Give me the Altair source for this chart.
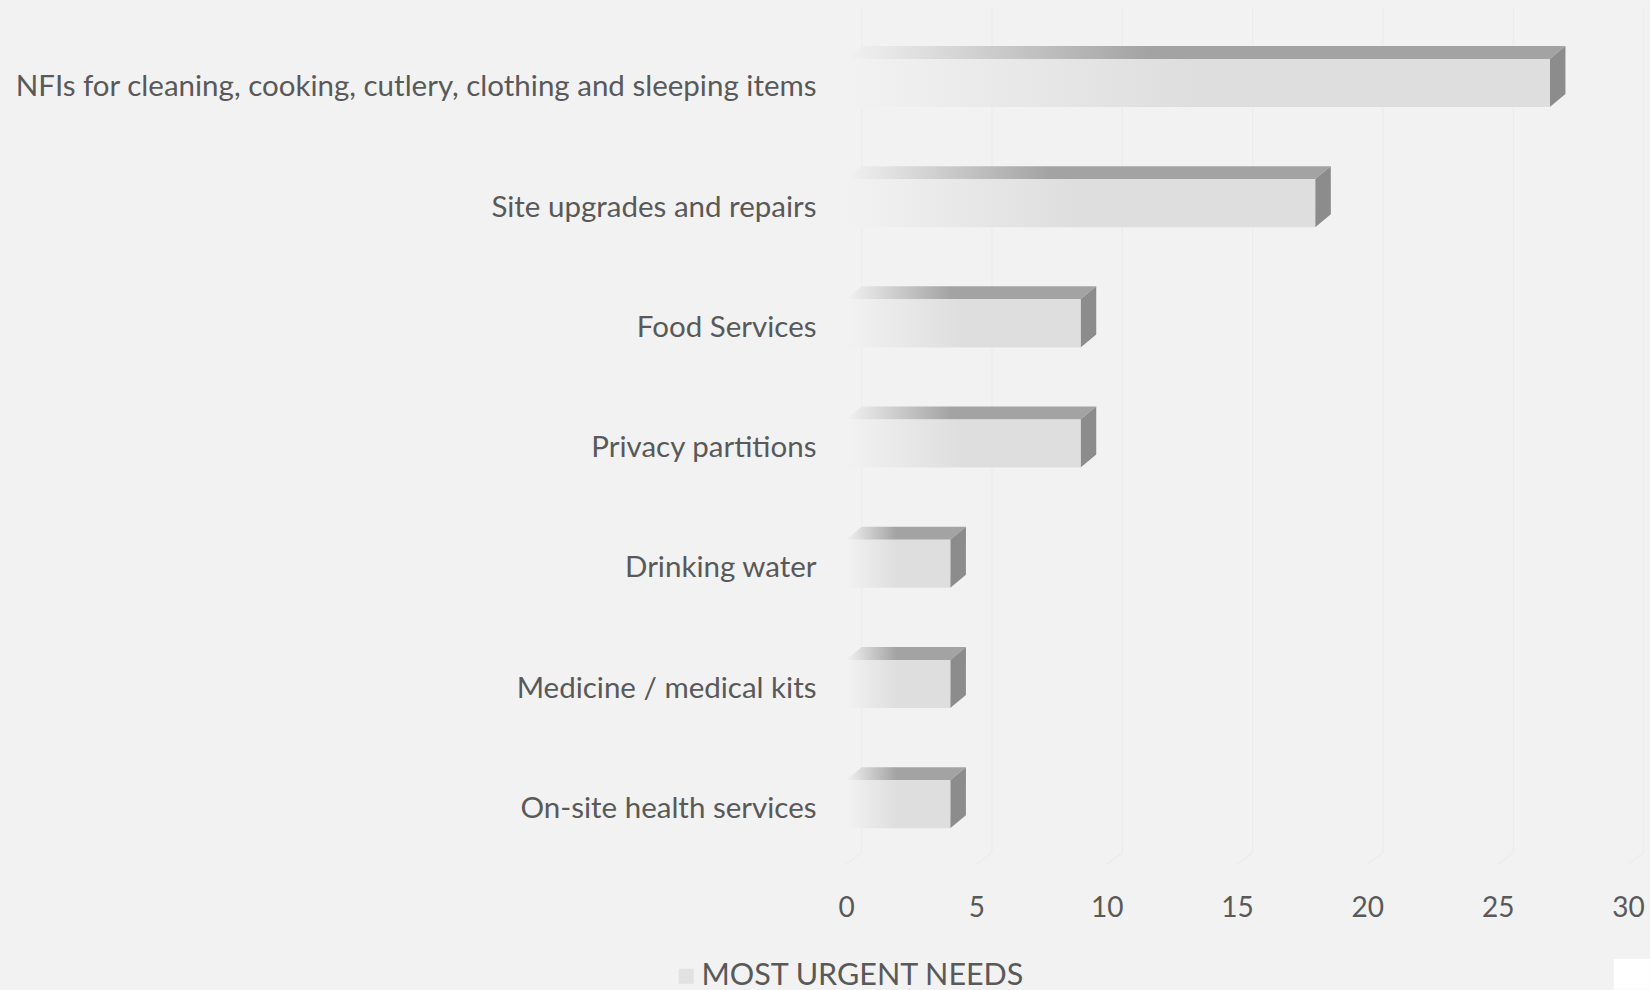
import json

import altair as alt
import pandas as pd

categories = [
    "NFIs for cleaning, cooking, cutlery, clothing and sleeping items",
    "Site upgrades and repairs",
    "Food Services",
    "Privacy partitions",
    "Drinking water",
    "Medicine / medical kits",
    "On-site health services",
]
values = [27, 18, 9, 9, 4, 4, 4]
x_ticks = [0, 5, 10, 15, 20, 25, 30]
series_name = "MOST URGENT NEEDS"

# Box geometry, in axis units: x is the count, y is the row number.
BAR_ABOVE = 0.192
BAR_BELOW = 0.208
DEPTH_X = 0.6
DEPTH_Y = 0.108
ROW_TOP = -0.6156
ROW_FLOOR_FRONT = 6.51
ROW_FLOOR_BACK = 6.41
ROW_DOMAIN = [ROW_TOP, 6.539]

TEXT = "#595959"
FONT = "Lato"

x_scale = alt.Scale(domain=[0, 30], nice=False, zero=False)
y_scale = alt.Scale(domain=ROW_DOMAIN, reverse=True, nice=False, zero=False)


def fade(colour, stop):
    """Left-to-right fade from the background into a solid face colour."""
    return alt.LinearGradient(
        gradient="linear",
        x1=0, x2=1, y1=0, y2=0,
        stops=[
            alt.GradientStop(offset=0, color="#f2f2f2"),
            alt.GradientStop(offset=stop, color=colour),
            alt.GradientStop(offset=1, color=colour),
        ],
    )


rows = pd.DataFrame({"bar": range(len(values)), "value": values})
rows["start"] = 0
rows["front_top"] = rows["bar"] - BAR_ABOVE
rows["front_bottom"] = rows["bar"] + BAR_BELOW

top_faces = pd.DataFrame(
    [
        {"bar": r.bar, "step": s, "left": s * DEPTH_X, "right": r.value + s * DEPTH_X,
         "edge": r.front_top - s * DEPTH_Y}
        for r in rows.itertuples()
        for s in (0, 1)
    ]
)
side_faces = pd.DataFrame(
    [
        {"bar": r.bar, "step": s, "edge": r.value + s * DEPTH_X,
         "upper": r.front_top - s * DEPTH_Y, "lower": r.front_bottom - s * DEPTH_Y}
        for r in rows.itertuples()
        for s in (0, 1)
    ]
)
grid = pd.DataFrame(
    [
        {"tick": t, "step": s, "x": t + dx, "y": y}
        for t in x_ticks
        for s, dx, y in (
            (0, 0, ROW_FLOOR_FRONT),
            (1, DEPTH_X, ROW_FLOOR_BACK),
            (2, DEPTH_X, ROW_TOP),
        )
    ]
)

x_axis = alt.Axis(
    values=x_ticks, title=None, grid=False, ticks=False, domain=False,
    labelFont=FONT, labelFontSize=28, labelColor=TEXT, labelPadding=26,
    labelFlush=False, labelOverlap=False,
)
y_axis = alt.Axis(
    values=list(range(len(categories))), title=None, grid=False, ticks=False, domain=False,
    labelExpr=json.dumps(categories) + "[datum.value]",
    labelFont=FONT, labelFontSize=29.5, labelColor=TEXT, labelPadding=30,
    labelOffset=5, labelLimit=0, labelOverlap=False, labelFlush=False,
)

grid_layer = alt.Chart(grid).mark_line(color="#ececec", strokeWidth=1.2).encode(
    x=alt.X("x:Q", scale=x_scale, axis=x_axis),
    y=alt.Y("y:Q", scale=y_scale, axis=y_axis),
    detail="tick:N",
    order="step:Q",
)

top_layer = alt.Chart(top_faces).mark_area(orient="horizontal", color=fade("#a3a3a3", 0.42)).encode(
    x=alt.X("left:Q", scale=x_scale),
    x2="right:Q",
    y=alt.Y("edge:Q", scale=y_scale),
    detail="bar:N",
)

side_layer = alt.Chart(side_faces).mark_area(orient="vertical", color="#8c8c8c").encode(
    x=alt.X("edge:Q", scale=x_scale),
    y=alt.Y("upper:Q", scale=y_scale),
    y2="lower:Q",
    detail="bar:N",
)

front_layer = alt.Chart(rows).mark_rect(color=fade("#dedede", 0.49)).encode(
    x=alt.X("start:Q", scale=x_scale),
    x2="value:Q",
    y=alt.Y("front_top:Q", scale=y_scale),
    y2="front_bottom:Q",
)

# Zero-sized point that only exists to carry the series legend.
legend_layer = alt.Chart(pd.DataFrame({"series": [series_name], "x": [0], "y": [0]})).mark_square(
    size=0, opacity=1
).encode(
    x=alt.X("x:Q", scale=x_scale),
    y=alt.Y("y:Q", scale=y_scale),
    color=alt.Color(
        "series:N",
        scale=alt.Scale(domain=[series_name], range=["#e2e2e2"]),
        legend=alt.Legend(
            title=None, orient="none", legendX=-175, legendY=953,
            symbolType="square", symbolSize=225, symbolStrokeWidth=0,
            labelFont=FONT, labelFontSize=30.5, labelColor=TEXT, labelOffset=0,
            labelLimit=0,
        ),
    ),
)

# Blank corner block at the lower right of the canvas.
corner = pd.DataFrame({"x": [29.46], "x2": [30.84], "y": [7.296], "y2": [7.55]})
corner_layer = alt.Chart(corner).mark_rect(color="white", clip=False).encode(
    x=alt.X("x:Q", scale=x_scale),
    x2="x2:Q",
    y=alt.Y("y:Q", scale=y_scale),
    y2="y2:Q",
)

chart = (
    alt.layer(grid_layer, top_layer, side_layer, front_layer, legend_layer, corner_layer)
    .properties(
        width=782,
        height=860,
        background="#f2f2f2",
        padding={"left": 846, "top": 8, "right": 22, "bottom": 122},
        autosize=alt.AutoSizeParams(type="none"),
    )
    .configure_view(stroke=None)
)

chart.save("out.html", embed_options={"renderer": "svg", "actions": False})
